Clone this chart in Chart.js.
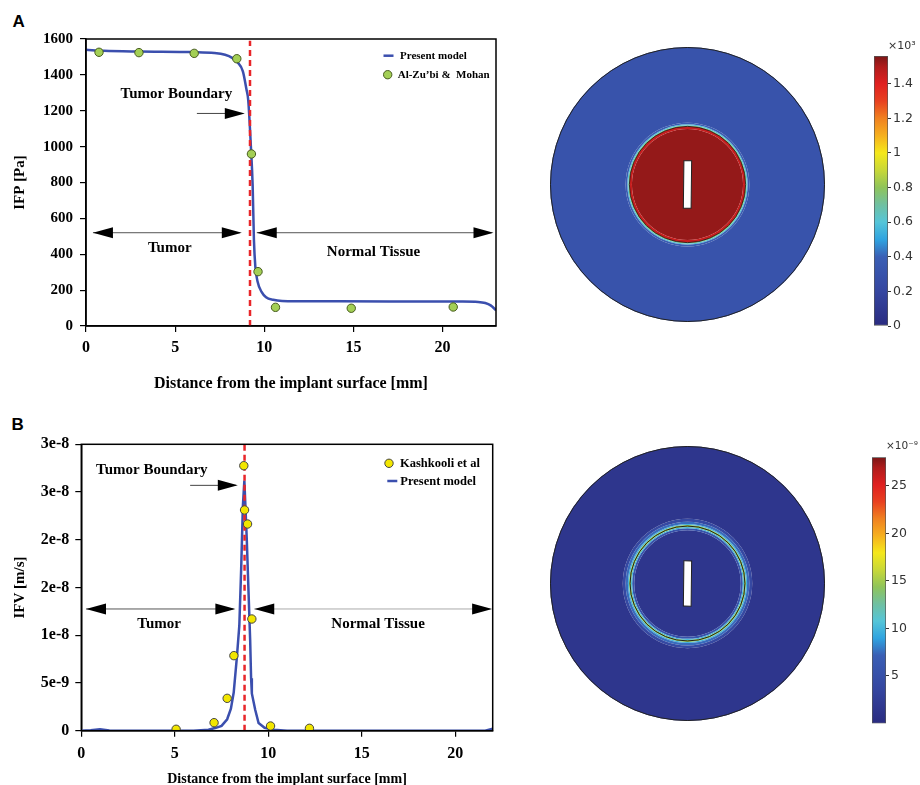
<!DOCTYPE html>
<html>
<head>
<meta charset="utf-8">
<script src="https://cdn.jsdelivr.net/npm/chart.js@4.4.1/dist/chart.umd.min.js"></script>
<style>
  body { margin: 0; background: #fff; }
  #page { position: relative; width: 920px; height: 785px; overflow: hidden; }
  canvas { position: absolute; }
  .tag { position: absolute; font: bold 17px "Liberation Sans", Arial, sans-serif; line-height: 17px; }
</style>
</head>
<body>
<div id="page">
  <div class="tag" style="left:12.5px;top:12.8px">A</div>
  <div class="tag" style="left:11.5px;top:416px">B</div>
  <canvas id="ifpLine" width="520" height="400" style="left:0;top:0"></canvas>
  <canvas id="ifvLine" width="520" height="392" style="left:0;top:400px"></canvas>
  <canvas id="ifpMap" width="275" height="275" style="left:549.5px;top:47px"></canvas>
  <canvas id="ifvMap" width="275" height="275" style="left:549.5px;top:446px"></canvas>
  <canvas id="ifpBar" width="46" height="300" style="left:874px;top:40px"></canvas>
  <canvas id="ifvBar" width="48" height="300" style="left:872px;top:440px"></canvas>
</div>
<script>
// ---------- panel A : interstitial fluid pressure ----------
const xPresentA   = [0, 1, 3, 6, 7.2, 7.8, 8.2, 8.5, 8.8, 9.0, 9.1, 9.25, 9.35, 9.42, 9.5, 9.62, 9.85, 10.1, 10.5, 11, 13, 17, 21, 22, 22.4, 22.7, 23];
const ifpPresentA = [1540, 1534, 1530, 1527, 1522, 1512, 1495, 1470, 1420, 1320, 1260, 1000, 780, 480, 330, 250, 190, 160, 146, 140, 138, 137, 136, 134, 128, 115, 88];
const xAlZubi   = [0.73, 2.97, 6.07, 8.46, 9.28, 9.65, 10.63, 14.88, 20.6];
const ifpAlZubi = [1526, 1524, 1520, 1490, 959, 303, 104, 99, 106];
const boundaryA = 9.2;
const xTicksA = [0, 5, 10, 15, 20];
const yTicksA = [0, 200, 400, 600, 800, 1000, 1200, 1400, 1600];

// ---------- panel B : interstitial fluid velocity ----------
const xPresentB   = [0, 0.5, 1.0, 1.5, 3, 6, 6.8, 7.2, 7.5, 7.8, 8.0, 8.15, 8.32, 8.45, 8.55, 8.64, 8.72, 8.85, 8.94, 9.03, 9.08, 9.12, 9.3, 9.48, 9.8, 10.3, 11, 21.6, 22];
const ifvPresentB = [0, 0.5e-10, 1.5e-10, 0.3e-10, 0, 0, 1e-10, 3e-10, 5e-10, 1.2e-9, 2.3e-9, 4e-9, 7.7e-9, 1.1e-8, 1.7e-8, 2.35e-8, 2.62e-8, 2.0e-8, 1.47e-8, 9.5e-9, 5.5e-9, 3.9e-9, 2.2e-9, 8e-10, 3e-10, 1e-10, 0, 0, 2e-10];
const xKashkooli   = [5.07, 7.1, 7.8, 8.16, 8.69, 8.73, 8.89, 9.12, 10.12, 12.2];
const ifvKashkooli = [1.5e-10, 8.4e-10, 3.39e-9, 7.86e-9, 2.776e-8, 2.312e-8, 2.165e-8, 1.17e-8, 4.9e-10, 2.5e-10];
const boundaryB = 8.73;
const xTicksB = [0, 5, 10, 15, 20];
const yTicksB = [0, 5e-9, 1e-8, 1.5e-8, 2e-8, 2.5e-8, 3e-8];
const yTickLabelsB = ['0', '5e-9', '1e-8', '2e-8', '2e-8', '3e-8', '3e-8'];

// ---------- 2D maps : radial bands, outer edge of each band in mm (outermost first) ----------
const mapRadius = 24;
const ifpBandEdges  = [24, 10.8, 10.5, 10.3, 10.15, 9.7];
const ifpBandValues = [0.3, 0.38, 0.6, 0.8, 1.45, 1.53];      // x10^3 Pa
const ifpBoundary = 10.15;
const ifvBandEdges  = [24, 11.3, 10.8, 10.4, 10.2, 9.86, 9.66, 9.3];
const ifvBandValues = [1.4, 4, 7.5, 10, 15, 10, 5.5, 1.4];  // x10^-9 m/s
const ifvBoundary = 10.03;

const cbMaxA = 1.56;
const cbTicksA = [0, 0.2, 0.4, 0.6, 0.8, 1, 1.2, 1.4];
const cbMaxB = 28;
const cbTicksB = [5, 10, 15, 20, 25];

// ---------- styling ----------
const serif = '"Liberation Serif", "Times New Roman", serif';
const sans = '"DejaVu Sans", sans-serif';
const rainbowStops = [
  [0, '#2a2b80'], [0.128, '#3546a0'], [0.256, '#3a5fb5'], [0.32, '#2fa3e0'],
  [0.385, '#55c5d8'], [0.45, '#70c0a0'], [0.513, '#8fc45a'], [0.577, '#c8d838'],
  [0.641, '#f5e81a'], [0.705, '#f6b01e'], [0.77, '#f08020'], [0.833, '#e84020'],
  [0.897, '#e02020'], [0.96, '#b01c1c'], [1, '#7a1616']
];

function hexRgb(h) {
  return [1, 3, 5].map(i => parseInt(h.slice(i, i + 2), 16));
}
function rainbow(t) {
  t = Math.max(0, Math.min(1, t));
  for (let i = 1; i < rainbowStops.length; i++) {
    const [t1, c1] = rainbowStops[i];
    if (t <= t1) {
      const [t0, c0] = rainbowStops[i - 1];
      const f = (t - t0) / (t1 - t0);
      const a = hexRgb(c0), b = hexRgb(c1);
      return 'rgb(' + a.map((v, k) => Math.round(v + (b[k] - v) * f)).join(',') + ')';
    }
  }
  return rainbowStops[rainbowStops.length - 1][1];
}

function drawHead(ctx, x, y, dir) {
  ctx.fillStyle = '#000';
  ctx.beginPath();
  ctx.moveTo(x, y);
  ctx.lineTo(x - dir * 20, y - 5.5);
  ctx.lineTo(x - dir * 20, y + 5.5);
  ctx.closePath();
  ctx.fill();
}

// frame, arrows, labels and in-plot legend
const annotate = {
  id: 'annotate',
  afterDraw(chart, args, opts) {
    const {ctx, chartArea: area, scales} = chart;
    const px = v => scales.x.getPixelForValue(v);
    const py = v => scales.y.getPixelForValue(v);
    ctx.save();
    ctx.strokeStyle = '#000';
    ctx.lineWidth = 1.5;
    ctx.strokeRect(area.left, area.top, area.right - area.left, area.bottom - area.top);

    for (const a of opts.arrows) {
      const x1 = px(a.from), x2 = px(a.to), y = py(a.y);
      ctx.strokeStyle = a.color;
      ctx.lineWidth = 1;
      ctx.beginPath();
      ctx.moveTo(x1, y);
      ctx.lineTo(x2 - 2, y);
      ctx.stroke();
      drawHead(ctx, x2, y, 1);
      if (a.both) drawHead(ctx, x1, y, -1);
    }

    ctx.fillStyle = '#000';
    ctx.textAlign = 'center';
    ctx.textBaseline = 'middle';
    for (const t of opts.texts) {
      ctx.font = 'bold ' + t.size + 'px ' + serif;
      ctx.fillText(t.text, px(t.x), py(t.y));
    }

    ctx.textAlign = 'left';
    ctx.font = 'bold ' + opts.legendSize + 'px ' + serif;
    for (const item of opts.legend) {
      const ds = chart.data.datasets[item.dataset];
      const x = area.left + item.dx, y = area.top + item.dy;
      if (item.kind === 'line') {
        ctx.strokeStyle = ds.borderColor;
        ctx.lineWidth = 2.5;
        ctx.beginPath();
        ctx.moveTo(x - 5, y);
        ctx.lineTo(x + 5, y);
        ctx.stroke();
      } else {
        ctx.fillStyle = ds.pointBackgroundColor;
        ctx.strokeStyle = ds.pointBorderColor;
        ctx.lineWidth = 1;
        ctx.beginPath();
        ctx.arc(x, y, ds.pointRadius, 0, Math.PI * 2);
        ctx.fill();
        ctx.stroke();
      }
      ctx.fillStyle = '#000';
      ctx.fillText(ds.label, x + item.textDx, y + 0.5);
    }
    ctx.restore();
  }
};

function axisFont(size) {
  return {family: serif, size: size, weight: 'bold'};
}

function lineChart(id, cfg) {
  return new Chart(document.getElementById(id), {
    type: 'scatter',
    data: {datasets: cfg.datasets},
    options: {
      responsive: false,
      animation: false,
      events: [],
      layout: {autoPadding: false, padding: cfg.padding},
      plugins: {legend: {display: false}, tooltip: {enabled: false}, annotate: cfg.annotate},
      scales: {
        x: {
          type: 'linear', min: 0, max: cfg.xMax,
          afterBuildTicks: s => { s.ticks = cfg.xTicks.map(v => ({value: v})); },
          afterFit: s => { s.height = cfg.xHeight; },
          border: {color: '#000', width: 1.5},
          grid: {drawOnChartArea: false, color: '#000', tickLength: 6, lineWidth: 1.2},
          ticks: {color: '#000', font: axisFont(cfg.xTickSize), padding: cfg.xTickPad},
          title: {display: true, text: 'Distance from the implant surface [mm]', color: '#000',
                  font: axisFont(cfg.xTitleSize), padding: {top: 0, bottom: cfg.xTitlePad}}
        },
        y: {
          min: 0, max: cfg.yMax,
          afterBuildTicks: s => { s.ticks = cfg.yTicks.map(v => ({value: v})); },
          afterFit: s => { s.width = cfg.yWidth; },
          border: {color: '#000', width: 1.5},
          grid: {drawOnChartArea: false, color: '#000', tickLength: 6, lineWidth: 1.2},
          ticks: {color: '#000', font: axisFont(cfg.yTickSize), padding: cfg.yTickPad, callback: cfg.yLabel},
          title: {display: true, text: cfg.yTitle, color: '#000', font: axisFont(15), padding: {top: 1, bottom: 0}}
        }
      }
    },
    plugins: [annotate]
  });
}

const blue = '#3b4fae';
const red = '#e8262a';

lineChart('ifpLine', {
  padding: {left: 10, top: 39, right: 24, bottom: 0},
  xMax: 23, xTicks: xTicksA, xHeight: 74, xTickSize: 16, xTickPad: 6, xTitleSize: 16, xTitlePad: 7,
  yMax: 1600, yTicks: yTicksA, yWidth: 76, yTickSize: 15, yTickPad: 7, yTitle: 'IFP [Pa]',
  yLabel: v => String(v),
  datasets: [
    {label: 'Al-Zu’bi &  Mohan', data: xAlZubi.map((x, i) => ({x, y: ifpAlZubi[i]})),
     pointRadius: 4.2, pointBackgroundColor: '#a3cf55', pointBorderColor: '#465a1e', pointBorderWidth: 1, order: 0},
    {label: 'Tumor boundary', data: [{x: boundaryA, y: 0}, {x: boundaryA, y: 1590}], showLine: true,
     borderColor: red, borderWidth: 2.5, borderDash: [6, 4], pointRadius: 0, order: 1},
    {label: 'Present model', data: xPresentA.map((x, i) => ({x, y: ifpPresentA[i]})), showLine: true,
     borderColor: blue, borderWidth: 2.5, pointRadius: 0, cubicInterpolationMode: 'monotone', order: 2}
  ],
  annotate: {
    arrows: [
      {from: 6.22, to: 8.91, y: 1185, color: '#444'},
      {from: 0.39, to: 8.74, y: 520, color: '#555', both: true},
      {from: 9.58, to: 22.86, y: 520, color: '#555', both: true}
    ],
    texts: [
      {text: 'Tumor Boundary', x: 5.07, y: 1293, size: 15},
      {text: 'Tumor', x: 4.7, y: 433, size: 15},
      {text: 'Normal Tissue', x: 16.13, y: 414, size: 15}
    ],
    legendSize: 11,
    legend: [
      {dataset: 2, kind: 'line', dx: 302.5, dy: 16.7, textDx: 11.5},
      {dataset: 0, kind: 'point', dx: 301.7, dy: 35.7, textDx: 10}
    ]
  }
});

lineChart('ifvLine', {
  padding: {left: 10, top: 44.3, right: 27.3, bottom: 0},
  xMax: 22, xTicks: xTicksB, xHeight: 61.3, xTickSize: 16, xTickPad: 8, xTitleSize: 14, xTitlePad: 4,
  yMax: 3e-8, yTicks: yTicksB, yWidth: 71.3, yTickSize: 16, yTickPad: 6, yTitle: 'IFV [m/s]',
  yLabel: v => yTickLabelsB[yTicksB.indexOf(v)],
  datasets: [
    {label: 'Kashkooli et al', data: xKashkooli.map((x, i) => ({x, y: ifvKashkooli[i]})),
     pointRadius: 4.2, pointBackgroundColor: '#f2e600', pointBorderColor: '#444', pointBorderWidth: 1, order: 0},
    {label: 'Tumor boundary', data: [{x: boundaryB, y: 0}, {x: boundaryB, y: 3e-8}], showLine: true,
     borderColor: red, borderWidth: 2.5, borderDash: [6, 4], pointRadius: 0, order: 1},
    {label: 'Present model', data: xPresentB.map((x, i) => ({x, y: ifvPresentB[i]})), showLine: true,
     borderColor: blue, borderWidth: 2.5, pointRadius: 0, tension: 0, order: 2}
  ],
  annotate: {
    arrows: [
      {from: 5.82, to: 8.37, y: 2.57e-8, color: '#444'},
      {from: 0.25, to: 8.24, y: 1.275e-8, color: '#555', both: true},
      {from: 9.25, to: 21.97, y: 1.275e-8, color: '#aaa', both: true}
    ],
    texts: [
      {text: 'Tumor Boundary', x: 3.77, y: 2.731e-8, size: 15},
      {text: 'Tumor', x: 4.16, y: 1.118e-8, size: 15},
      {text: 'Normal Tissue', x: 15.87, y: 1.118e-8, size: 15}
    ],
    legendSize: 12.5,
    legend: [
      {dataset: 0, kind: 'point', dx: 307.7, dy: 19, textDx: 11},
      {dataset: 2, kind: 'line', dx: 311, dy: 36.7, textDx: 8}
    ]
  }
});

// ---------- circular field maps ----------
const mapDecor = {
  id: 'mapDecor',
  afterDatasetsDraw(chart, args, opts) {
    const arc = chart.getDatasetMeta(0).data[0];
    const {x, y, outerRadius} = arc;
    const k = outerRadius / mapRadius;
    const ctx = chart.ctx;
    ctx.save();
    ctx.strokeStyle = '#222';
    ctx.lineWidth = 1;
    ctx.beginPath();
    ctx.arc(x, y, outerRadius - 0.5, 0, Math.PI * 2);
    ctx.stroke();
    ctx.strokeStyle = '#111';
    ctx.lineWidth = opts.lineWidth;
    ctx.beginPath();
    ctx.arc(x, y, opts.boundary * k, 0, Math.PI * 2);
    ctx.stroke();
    ctx.translate(x, y);
    ctx.rotate(0.012);
    const w = 1.35 * k, h = opts.slot * k;
    ctx.fillStyle = '#fff';
    ctx.fillRect(-w / 2, -h / 2, w, h);
    ctx.lineWidth = 1;
    ctx.strokeStyle = '#222';
    ctx.strokeRect(-w / 2, -h / 2, w, h);
    ctx.restore();
  }
};

function bandDatasets(edges, values, max) {
  return edges.map((r, i) => ({
    data: [1],
    weight: r - (i + 1 < edges.length ? edges[i + 1] : 0),
    backgroundColor: rainbow(values[i] / max),
    borderWidth: 0,
    hoverOffset: 0
  }));
}

function fieldMap(id, edges, values, max, decor) {
  return new Chart(document.getElementById(id), {
    type: 'doughnut',
    data: {datasets: bandDatasets(edges, values, max)},
    options: {
      responsive: false,
      animation: false,
      events: [],
      cutout: 0,
      plugins: {legend: {display: false}, tooltip: {enabled: false}, mapDecor: decor}
    },
    plugins: [mapDecor]
  });
}

fieldMap('ifpMap', ifpBandEdges, ifpBandValues, cbMaxA, {boundary: ifpBoundary, lineWidth: 0.8, slot: 8.3});
fieldMap('ifvMap', ifvBandEdges, ifvBandValues, cbMaxB, {boundary: ifvBoundary, lineWidth: 0.9, slot: 7.9});

// ---------- colour bars ----------
const barTitle = {
  id: 'barTitle',
  afterDraw(chart, args, opts) {
    const {ctx, chartArea: area} = chart;
    ctx.save();
    ctx.fillStyle = '#333';
    ctx.font = opts.size + 'px ' + sans;
    ctx.textBaseline = 'middle';
    ctx.fillText(opts.text, area.right + opts.dx, area.top - opts.dy);
    ctx.restore();
  }
};

function colorBar(id, max, ticks, padding, axisWidth, title) {
  return new Chart(document.getElementById(id), {
    type: 'bar',
    data: {
      labels: [''],
      datasets: [{
        data: [max],
        backgroundColor: c => {
          const area = c.chart.chartArea;
          if (!area) return '#888';
          const g = c.chart.ctx.createLinearGradient(0, area.bottom, 0, area.top);
          rainbowStops.forEach(([t, col]) => g.addColorStop(t, col));
          return g;
        },
        borderColor: '#555',
        borderWidth: 1,
        borderSkipped: false,
        barPercentage: 1,
        categoryPercentage: 1
      }]
    },
    options: {
      responsive: false,
      animation: false,
      events: [],
      layout: {padding: padding},
      plugins: {legend: {display: false}, tooltip: {enabled: false}, barTitle: title},
      scales: {
        x: {display: false},
        y: {
          position: 'right', min: 0, max: max,
          afterBuildTicks: s => { s.ticks = ticks.map(v => ({value: v})); },
          afterFit: s => { s.width = axisWidth; },
          border: {display: false},
          grid: {drawOnChartArea: false, color: '#333', tickLength: 3},
          ticks: {color: '#333', font: {family: sans, size: 12.5}, padding: 2, callback: v => String(v)}
        }
      }
    },
    plugins: [barTitle]
  });
}

colorBar('ifpBar', cbMaxA, cbTicksA, {top: 16, bottom: 14, left: 0, right: 0}, 32, {text: '×10³', dx: 0, dy: 10.3, size: 11});
colorBar('ifvBar', cbMaxB, cbTicksB, {top: 17.3, bottom: 16.5, left: 0, right: 0}, 34, {text: '×10⁻⁹', dx: 0, dy: 11.3, size: 10.5});
</script>
</body>
</html>
